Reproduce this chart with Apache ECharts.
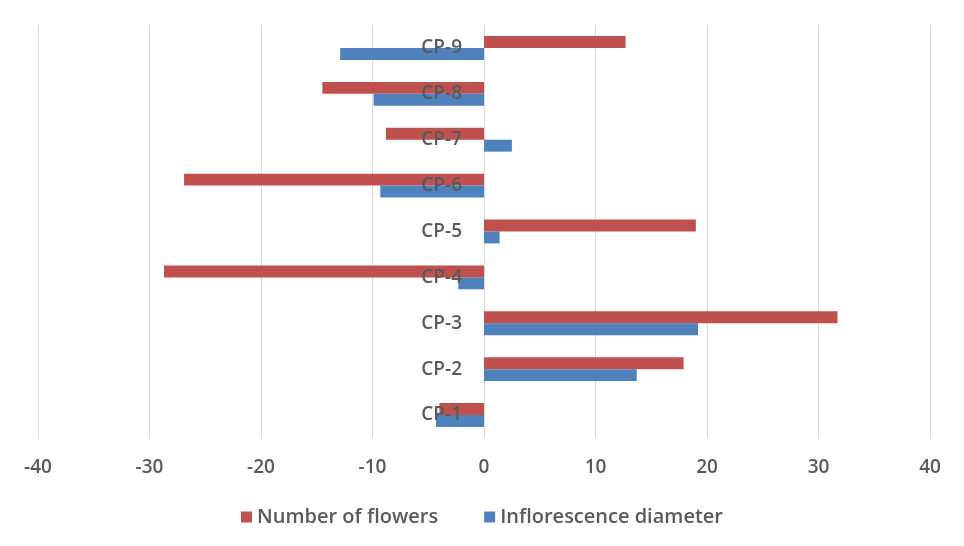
<!DOCTYPE html>
<html>
<head>
<meta charset="utf-8">
<script src="https://cdn.jsdelivr.net/npm/echarts@6/dist/echarts.min.js"></script>
<style>html,body{margin:0;padding:0;background:#fff}#c{width:964px;height:546px}</style>
</head>
<body>
<div id="c"></div>
<script>
const categories = ['CP-1','CP-2','CP-3','CP-4','CP-5','CP-6','CP-7','CP-8','CP-9'];
const numberOfFlowers = [-4.0, 17.9, 31.7, -28.7, 19.0, -26.9, -8.8, -14.5, 12.7];
const inflorescenceDiameter = [-4.3, 13.7, 19.2, -2.3, 1.4, -9.3, 2.5, -9.9, -12.9];
const xTicks = { min: -40, max: 40, interval: 10 };

const chart = echarts.init(document.getElementById('c'));
const font = '"Open Sans", "Liberation Sans", sans-serif';
chart.setOption({
  animation: false,
  backgroundColor: '#ffffff',
  grid: { left: 38, right: 34, top: 25, bottom: 108, containLabel: false, outerBoundsMode: 'none' },
  legend: {
    data: ['Number of flowers', 'Inflorescence diameter'],
    bottom: 14,
    left: 'center',
    itemWidth: 11, itemHeight: 11, itemGap: 46,
    icon: 'rect',
    textStyle: { fontFamily: font, fontSize: 20, fontWeight: 600, color: '#595959' }
  },
  xAxis: {
    type: 'value',
    min: xTicks.min, max: xTicks.max, interval: xTicks.interval,
    axisLine: { show: false },
    axisTick: { show: false },
    splitLine: { lineStyle: { color: '#d9d9d9', width: 1 } },
    axisLabel: { margin: 20, fontFamily: font, fontSize: 19, fontWeight: 600, color: '#595959' }
  },
  yAxis: {
    type: 'category',
    data: categories,
    z: 10,
    axisLine: { show: false },
    axisTick: { show: false },
    axisLabel: { margin: -424, fontFamily: font, fontSize: 19, fontWeight: 600, color: '#595959' }
  },
  series: [
    {
      name: 'Number of flowers', type: 'bar', data: numberOfFlowers,
      itemStyle: { color: '#C0504D' }, barGap: '0%', barCategoryGap: '48%'
    },
    {
      name: 'Inflorescence diameter', type: 'bar', data: inflorescenceDiameter,
      itemStyle: { color: '#4F81BD' }, barGap: '0%', barCategoryGap: '48%'
    }
  ]
});
</script>
</body>
</html>
